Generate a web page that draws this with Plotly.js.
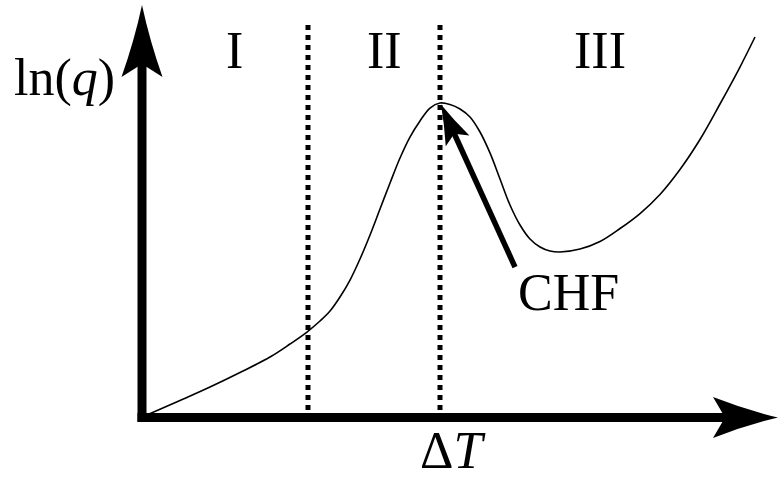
<!DOCTYPE html>
<html>
<head>
<meta charset="utf-8">
<script src="https://cdn.plot.ly/plotly-3.0.1.min.js"></script>
<style>
  html, body { margin: 0; padding: 0; background: #fff; }
  #chart { width: 779px; height: 479px; }
</style>
</head>
<body>
<div id="chart"></div>
<script>
// Boiling curve: ln(q) against wall superheat ΔT (arbitrary units)
const deltaT = [0.94, 5.98, 10.71, 15.43, 20.16, 23.31, 25.98, 28.03, 29.61, 31.18,
                32.76, 34.33, 35.91, 37.48, 39.06, 40.63, 42.20, 43.78, 45.35, 46.93,
                48.50, 50.08, 51.65, 53.23, 54.80, 56.38, 57.95, 59.53, 61.10, 62.68,
                64.25, 65.83, 68.98, 72.13, 75.28, 78.43, 81.57, 84.72, 87.87, 91.02,
                94.17, 96.54];
const lnQ = [0.73, 4.13, 7.40, 10.92, 14.68, 17.84, 20.75, 23.42, 25.85, 29.25,
             33.37, 38.47, 44.30, 50.61, 56.92, 62.99, 68.08, 71.97, 75.12, 76.33,
             75.97, 74.88, 72.94, 69.30, 64.22, 57.89, 51.58, 46.72, 43.33, 41.38,
             40.41, 40.17, 40.90, 42.72, 45.87, 49.51, 54.13, 60.19, 67.48, 76.09,
             85.07, 92.35];

// Regime boundaries on the ΔT axis and the regime names
const regimeBounds = [26.14, 46.93];
const regimeTop = 95.27;
const regimeNames = ['I', 'II', 'III'];

// Axis titles and the CHF label
const yTitle = 'ln(<i>q</i>)';
const xTitle = 'Δ<i>T</i>';
const chfLabel = 'CHF';

const W = 779, H = 479;
const xRange = [-22.362, 100.315];
const yRange = [-14.927, 101.335];

// filled arrowhead with slightly concave flanks and a notched back;
// offsets (tx, ty) and sizes are in pixels, y pointing up
function head(ax, ay, tx, ty, deg, len, half, notch, bow) {
  const a = deg * Math.PI / 180, c = Math.cos(a), s = Math.sin(a);
  const p = (u, v) => (tx + u * c - v * s).toFixed(2) + ',' + (ty + u * s + v * c).toFixed(2);
  const path = 'M' + p(0, 0) +
    ' Q' + p(-len / 2, half / 2 - bow) + ' ' + p(-len, half) +
    ' L' + p(-len + notch, 0) +
    ' L' + p(-len, -half) +
    ' Q' + p(-len / 2, -half / 2 + bow) + ' ' + p(0, 0) + ' Z';
  return {
    type: 'path', xref: 'x', yref: 'y', xsizemode: 'pixel', ysizemode: 'pixel',
    xanchor: ax, yanchor: ay, path: path,
    fillcolor: '#000', line: { width: 0 }, layer: 'above'
  };
}

function shaft(ax, ay, x0, y0, x1, y1, w) {
  return {
    type: 'line', xref: 'x', yref: 'y', xsizemode: 'pixel', ysizemode: 'pixel',
    xanchor: ax, yanchor: ay, x0: x0, y0: y0, x1: x1, y1: y1,
    line: { color: '#000', width: w }, layer: 'above'
  };
}

// critical heat flux = the first local maximum of the curve
let iMax = 0;
while (iMax < lnQ.length - 1 && lnQ[iMax + 1] >= lnQ[iMax]) iMax++;
const chfX = deltaT[iMax], chfY = lnQ[iMax];

// CHF pointer geometry (pixels, relative to the CHF point)
const tail = [75, -164];
const tipOff = [1, -1.5];
const dirDeg = Math.atan2(tipOff[1] - tail[1], tipOff[0] - tail[0]) * 180 / Math.PI;
const chfLen = 40, chfHalf = 13, chfNotch = 8;
const dr = dirDeg * Math.PI / 180;
const shaftEnd = [tipOff[0] - Math.cos(dr) * (chfLen - chfNotch - 4),
                  tipOff[1] - Math.sin(dr) * (chfLen - chfNotch - 4)];

const shapes = [
  // ln(q) axis
  shaft(0, 0, 0, -4.5, 0, 412.5 - 72 + 13 + 5, 9),
  head(0, 0, 0, 412.5, 90, 72, 20.5, 13, 2.5),
  // ΔT axis
  shaft(0, 0, -4.5, 0, 636 - 65 + 12 + 5, 0, 9),
  head(0, 0, 636, 0, 0, 65, 20.5, 12, 2.5),
  // CHF pointer
  shaft(chfX, chfY, tail[0], tail[1], shaftEnd[0], shaftEnd[1], 5.5),
  head(chfX, chfY, tipOff[0], tipOff[1], dirDeg, chfLen, chfHalf, chfNotch, 1.2)
];

const traces = regimeBounds.map(b => ({
  type: 'scatter', mode: 'lines',
  x: [b, b], y: [regimeTop, 1.0],
  line: { color: '#000', width: 5, dash: 'dot' },
  hoverinfo: 'skip'
}));
traces.push({
  type: 'scatter', mode: 'lines',
  x: deltaT, y: lnQ,
  line: { color: '#000', width: 1.6, shape: 'spline', smoothing: 1, simplify: false },
  hoverinfo: 'skip'
});

const font = { family: 'Liberation Serif, Times New Roman, serif', size: 52, color: '#000' };
const labelX = [14.49, 38.11, 72.13];
const annotations = regimeNames.map((t, i) => ({
  x: labelX[i], y: 89.08, xref: 'x', yref: 'y', text: t, showarrow: false,
  xanchor: 'center', yanchor: 'middle', font: font
}));
annotations.push(
  { x: -12.28, y: 82.52, xref: 'x', yref: 'y', text: yTitle, showarrow: false,
    xanchor: 'center', yanchor: 'middle', font: font },
  { x: 48.90, y: -8.1, xref: 'x', yref: 'y', text: xTitle, showarrow: false,
    xanchor: 'center', yanchor: 'middle', font: font },
  { x: 67.09, y: 30.34, xref: 'x', yref: 'y', text: chfLabel, showarrow: false,
    xanchor: 'center', yanchor: 'middle', font: font }
);

const layout = {
  width: W, height: H,
  margin: { l: 0, r: 0, t: 0, b: 0, pad: 0 },
  paper_bgcolor: '#fff', plot_bgcolor: '#fff',
  showlegend: false,
  xaxis: { range: xRange, visible: false, showgrid: false, zeroline: false, fixedrange: true },
  yaxis: { range: yRange, visible: false, showgrid: false, zeroline: false, fixedrange: true },
  shapes: shapes,
  annotations: annotations
};

Plotly.newPlot('chart', traces, layout, { staticPlot: true, displayModeBar: false });
</script>
</body>
</html>
